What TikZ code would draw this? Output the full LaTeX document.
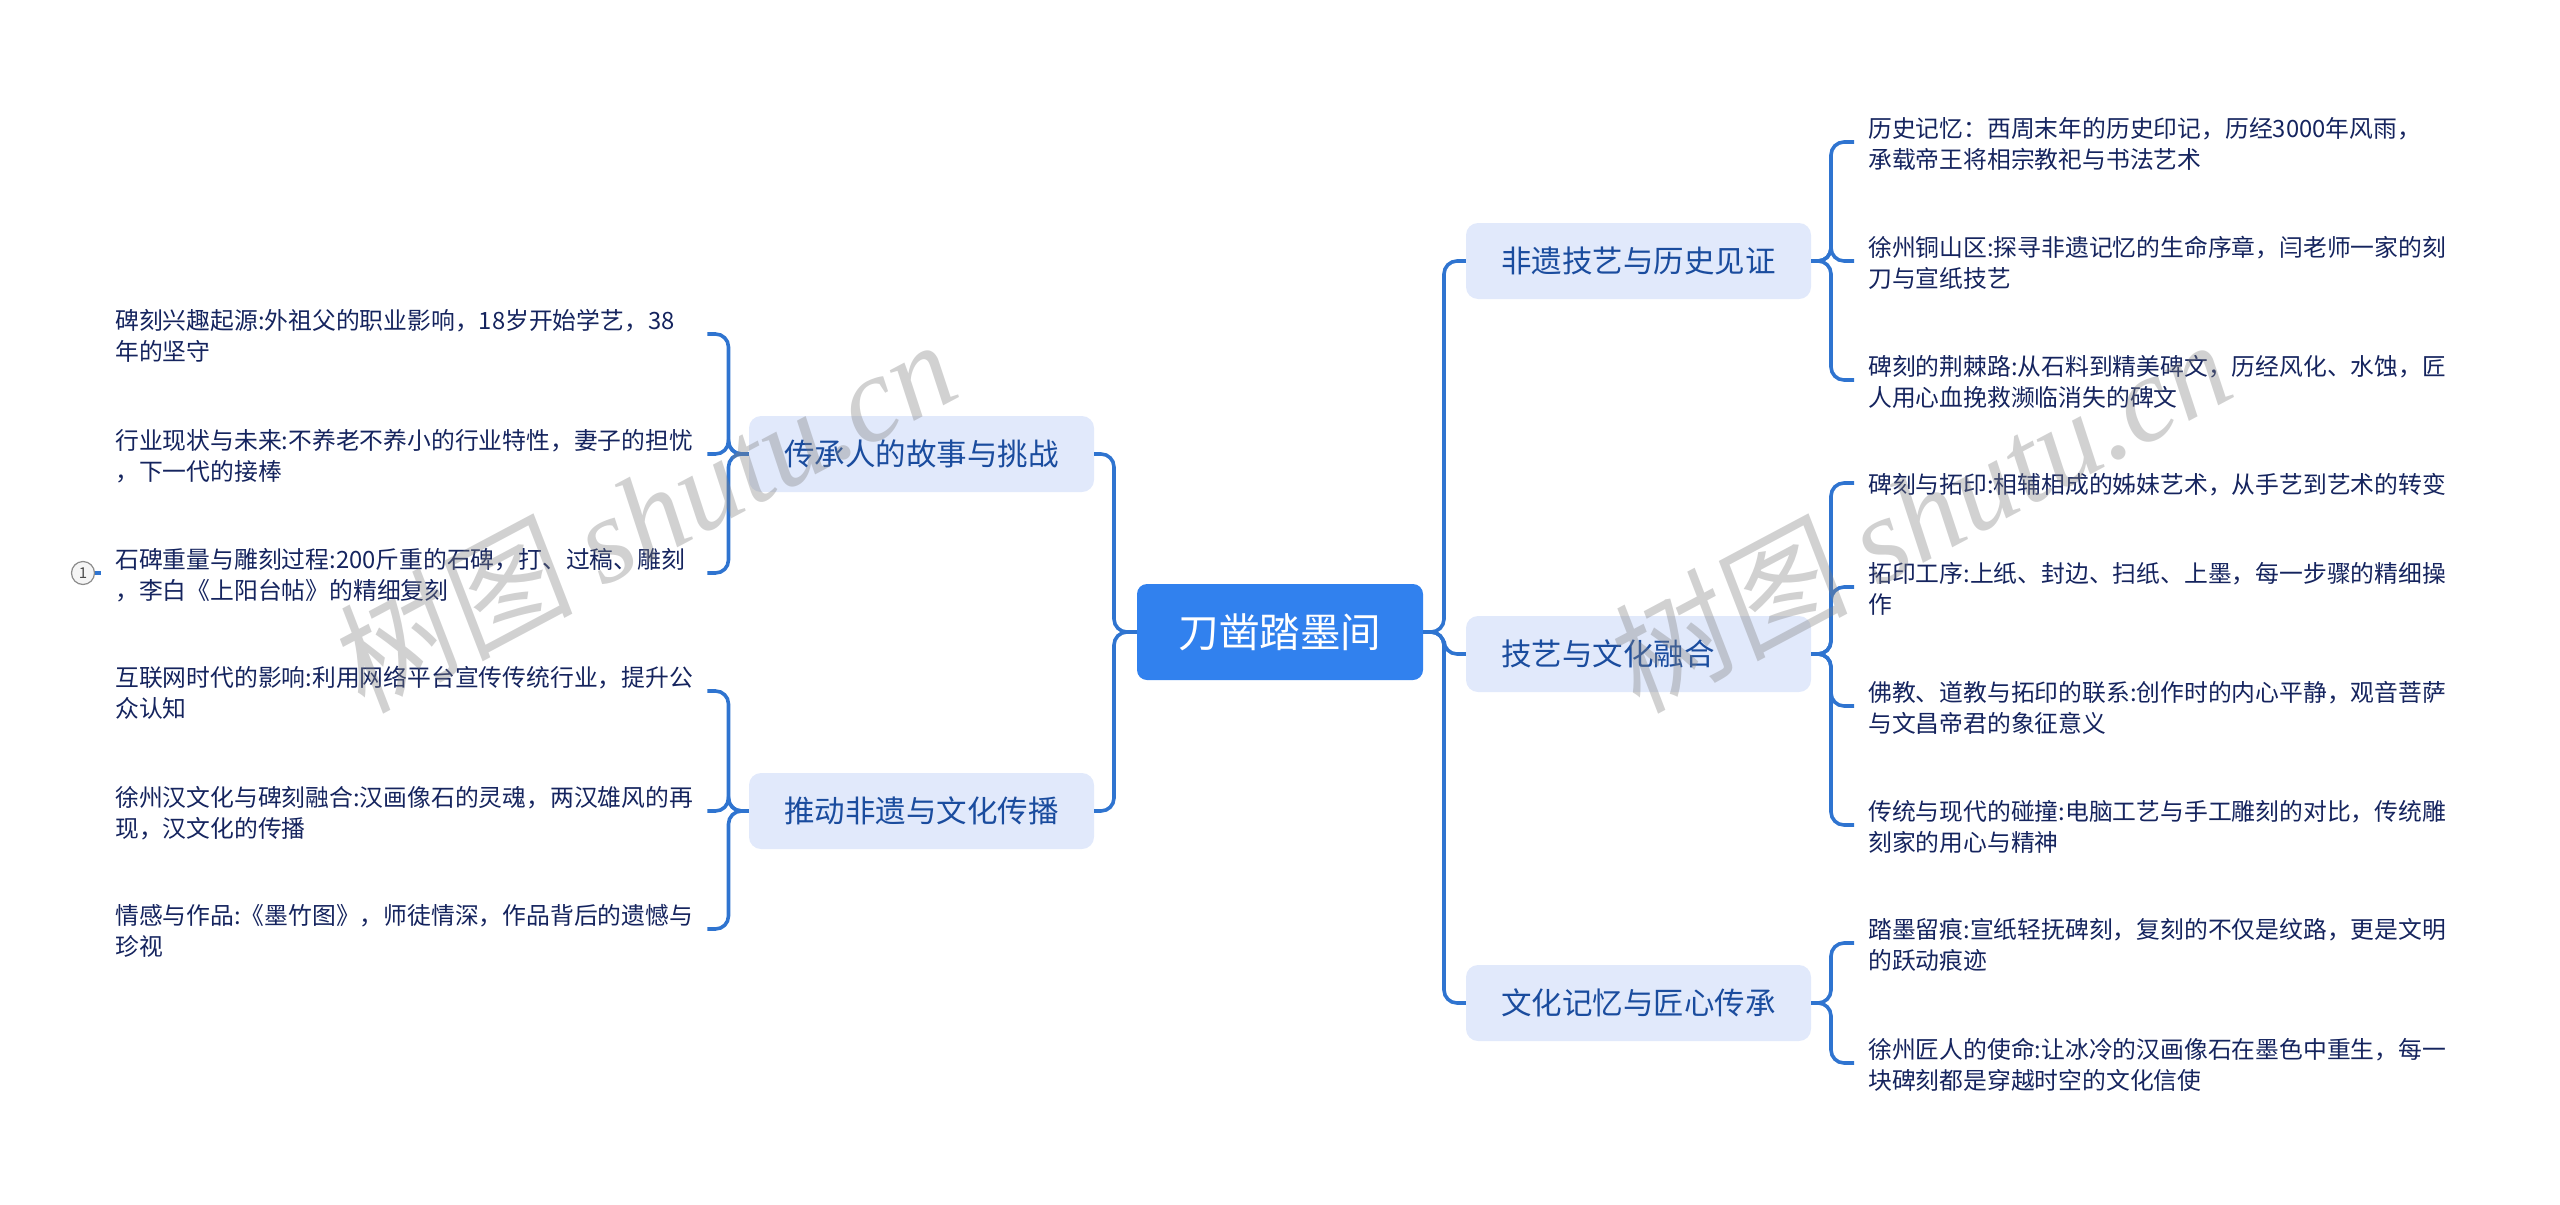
\documentclass[tikz,border=0pt]{standalone}
\usepackage{fontspec}
\setmainfont{Noto Sans CJK SC}
\newfontfamily\wmcjk[FakeSlant=0.12]{Noto Sans CJK SC}
\newfontfamily\wmlat{Liberation Serif}
\newcommand{\fc}{\symbol{"FF0C}}
\newcommand{\fcol}{\symbol{"FF1A}}
\newcommand{\leafline}[1]{\hbox to 578pt{\rule{0pt}{22pt}#1\rule[-8pt]{0pt}{8pt}\hss}}
\newcommand{\leafone}[1]{\vbox{\kern7pt\leafline{#1}}}
\newcommand{\leaftwo}[2]{\vbox{\baselineskip=31pt\lineskiplimit=-30pt\lineskip=0pt\kern7pt\leafline{#1}\leafline{#2}}}
\definecolor{linecol}{HTML}{2F74D0}
\definecolor{rootfill}{HTML}{3181EE}
\definecolor{subfill}{HTML}{E1E9FB}
\definecolor{subtext}{HTML}{1A4C9E}
\definecolor{leaftext}{HTML}{15245E}
\tikzset{
  x=1pt,y=-1pt,
  conn/.style={draw=linecol,line width=3.6pt,rounded corners=13pt},
  rootbox/.style={rectangle,rounded corners=10pt,fill=rootfill,text=white,minimum width=286pt,minimum height=96pt,inner sep=0pt,font=\fontsize{40.5}{48}\selectfont},
  subbox/.style={rectangle,rounded corners=12pt,fill=subfill,text=subtext,minimum width=345pt,minimum height=76pt,inner xsep=35pt,inner ysep=0pt,text width=275pt,align=left,font=\fontsize{30.5}{38}\selectfont},
  leafbox/.style={rectangle,anchor=west,inner xsep=14pt,inner ysep=0pt,text=leaftext,font=\fontsize{23.8}{31}\selectfont},
  markbox/.style={circle,draw=black!45,fill=black!4,line width=1.2pt,minimum size=23pt,inner sep=0pt,text=black!70,font=\fontsize{15}{15}\selectfont},
  wmark/.style={rotate=28,text=black!50,text opacity=0.36,inner sep=0pt,font=\fontsize{122}{122}\selectfont}
}
\begin{document}
\begin{tikzpicture}
\useasboundingbox (0,0) rectangle (2560,1205);
% root and branches
\node[rootbox] (root) at (1280,632) {刀凿踏墨间};
\node[subbox] (r1) at (1638.5,261) {非遗技艺与历史见证};
\node[subbox] (r2) at (1638.5,654) {技艺与文化融合};
\node[subbox] (r3) at (1638.5,1003) {文化记忆与匠心传承};
\node[subbox] (p1) at (921.5,454) {传承人的故事与挑战};
\node[subbox] (p2) at (921.5,811) {推动非遗与文化传播};
% junctions
\coordinate (jr) at (1444,632);
\coordinate (jl) at (1114,632);
\coordinate (j1) at (1831,261);
\coordinate (j2) at (1831,654);
\coordinate (j3) at (1831,1003);
\coordinate (j4) at (728.5,454);
\coordinate (j5) at (728.5,811);
% leaves, right
\node[leafbox] (a1) at (1854,142) {\leaftwo{历史记忆\fcol{}西周末年的历史印记\fc{}历经3000年风雨\fc{}}{承载帝王将相宗教祀与书法艺术}};
\node[leafbox] (a2) at (1854,261) {\leaftwo{徐州铜山区:探寻非遗记忆的生命序章\fc{}闫老师一家的刻}{刀与宣纸技艺}};
\node[leafbox] (a3) at (1854,380) {\leaftwo{碑刻的荆棘路:从石料到精美碑文\fc{}历经风化、水蚀\fc{}匠}{人用心血挽救濒临消失的碑文}};
\node[leafbox] (b1) at (1854,483) {\leafone{碑刻与拓印:相辅相成的姊妹艺术\fc{}从手艺到艺术的转变}};
\node[leafbox] (b2) at (1854,587) {\leaftwo{拓印工序:上纸、封边、扫纸、上墨\fc{}每一步骤的精细操}{作}};
\node[leafbox] (b3) at (1854,706) {\leaftwo{佛教、道教与拓印的联系:创作时的内心平静\fc{}观音菩萨}{与文昌帝君的象征意义}};
\node[leafbox] (b4) at (1854,825) {\leaftwo{传统与现代的碰撞:电脑工艺与手工雕刻的对比\fc{}传统雕}{刻家的用心与精神}};
\node[leafbox] (c1) at (1854,943) {\leaftwo{踏墨留痕:宣纸轻抚碑刻\fc{}复刻的不仅是纹路\fc{}更是文明}{的跃动痕迹}};
\node[leafbox] (c2) at (1854,1063) {\leaftwo{徐州匠人的使命:让冰冷的汉画像石在墨色中重生\fc{}每一}{块碑刻都是穿越时空的文化信使}};
% leaves, left
\node[leafbox] (d1) at (101,334) {\leaftwo{碑刻兴趣起源:外祖父的职业影响\fc{}18岁开始学艺\fc{}38}{年的坚守}};
\node[leafbox] (d2) at (101,454) {\leaftwo{行业现状与未来:不养老不养小的行业特性\fc{}妻子的担忧}{\fc{}下一代的接棒}};
\node[leafbox] (d3) at (101,573) {\leaftwo{石碑重量与雕刻过程:200斤重的石碑\fc{}打、过稿、雕刻}{\fc{}李白《上阳台帖》的精细复刻}};
\node[leafbox] (e1) at (101,691) {\leaftwo{互联网时代的影响:利用网络平台宣传传统行业\fc{}提升公}{众认知}};
\node[leafbox] (e2) at (101,811) {\leaftwo{徐州汉文化与碑刻融合:汉画像石的灵魂\fc{}两汉雄风的再}{现\fc{}汉文化的传播}};
\node[leafbox] (e3) at (101,929) {\leaftwo{情感与作品:《墨竹图》\fc{}师徒情深\fc{}作品背后的遗憾与}{珍视}};
\node[markbox] (m1) at (83,573) {1};
% connectors
\foreach \t in {r1,r2,r3} \draw[conn] (root.east) -- (jr) |- (\t.west);
\foreach \t in {p1,p2} \draw[conn] (root.west) -- (jl) |- (\t.east);
\foreach \t in {a1,a2,a3} \draw[conn] (r1.east) -- (j1) |- (\t.west);
\foreach \t in {b1,b2,b3,b4} \draw[conn] (r2.east) -- (j2) |- (\t.west);
\foreach \t in {c1,c2} \draw[conn] (r3.east) -- (j3) |- (\t.west);
\foreach \t in {d1,d2,d3} \draw[conn] (p1.west) -- (j4) |- (\t.east);
\foreach \t in {e1,e2,e3} \draw[conn] (p2.west) -- (j5) |- (\t.east);
\draw[conn] (m1.east) -- (d3.west);
% watermarks
\node[wmark] (w1) at (642,514) {{\wmcjk 树图} {\wmlat\itshape shutu.cn}};
\node[wmark] (w2) at (1917,514) {{\wmcjk 树图} {\wmlat\itshape shutu.cn}};
\end{tikzpicture}
\end{document}
